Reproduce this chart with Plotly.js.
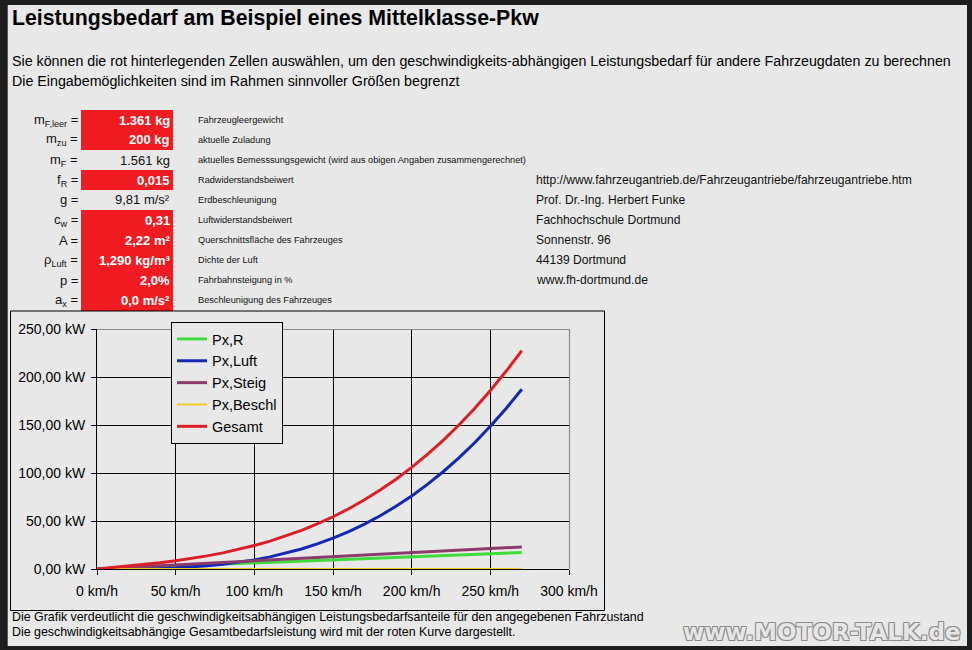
<!DOCTYPE html>
<html><head><meta charset="utf-8">
<script src="https://cdn.plot.ly/plotly-3.0.1.min.js"></script>
<style>html,body{margin:0;padding:0;background:#1e1e1e;} #chart{width:972px;height:650px;}</style>
</head><body><div id="chart"></div>
<script>
// ---- data ----
const speeds = [0,10,20,30,40,50,60,70,80,90,100,110,120,130,140,150,160,170,180,190,200,210,220,230,240,250,260,270];
const pRoll  = [0,0.64,1.28,1.91,2.55,3.19,3.83,4.47,5.10,5.74,6.38,7.02,7.66,8.30,8.93,9.57,10.21,10.85,11.49,12.12,12.76,13.40,14.04,14.68,15.31,15.95,16.59,17.23];
const pLuft  = [0,0.01,0.08,0.26,0.61,1.19,2.06,3.26,4.87,6.94,9.51,12.66,16.44,20.90,26.11,32.11,38.97,46.74,55.49,65.26,76.11,88.11,101.31,115.76,131.52,148.66,167.22,187.27];
const pSteig = [0,0.85,1.70,2.55,3.40,4.25,5.10,5.96,6.81,7.66,8.51,9.36,10.21,11.06,11.91,12.76,13.61,14.46,15.31,16.16,17.01,17.87,18.72,19.57,20.42,21.27,22.12,22.97];
const pBeschl= [0,0,0,0,0,0,0,0,0,0,0,0,0,0,0,0,0,0,0,0,0,0,0,0,0,0,0,0];
const pGesamt= [0,1.50,3.06,4.72,6.56,8.63,10.99,13.69,16.78,20.34,24.40,29.04,34.31,40.26,46.95,54.44,62.79,72.05,82.29,93.54,105.88,119.38,134.07,150.01,167.25,185.88,205.93,227.47];
const seriesNames = ["Px,R","Px,Luft","Px,Steig","Px,Beschl","Gesamt"];
const xTickVals = [0,50,100,150,200,250,300];
const xTickText = ["0 km/h","50 km/h","100 km/h","150 km/h","200 km/h","250 km/h","300 km/h"];
const yTickVals = [0,50,100,150,200,250];
const yTickText = ["0,00 kW","50,00 kW","100,00 kW","150,00 kW","200,00 kW","250,00 kW"];

const titleText = "Leistungsbedarf am Beispiel eines Mittelklasse-Pkw";
const introLines = ["Sie können die rot hinterlegenden Zellen auswählen, um den geschwindigkeits-abhängigen Leistungsbedarf für andere Fahrzeugdaten zu berechnen",
  "Die Eingabemöglichkeiten sind im Rahmen sinnvoller Größen begrenzt"];
const symbolLabels = ["m<sub>F,leer</sub> =","m<sub>zu</sub> =","m<sub>F</sub> =","f<sub>R</sub> =","g =","c<sub>w</sub> =","A =","ρ<sub>Luft</sub> =","p =","a<sub>x</sub> ="];
const cellValues = ["1.361 kg","200 kg","1.561 kg","0,015","9,81 m/s²","0,31","2,22 m²","1,290 kg/m³","2,0%","0,0 m/s²"];
const inputCell = [true,true,false,true,false,true,true,true,true,true];
const descriptions = ["Fahrzeugleergewicht","aktuelle Zuladung","aktuelles Bemesssungsgewicht (wird aus obigen Angaben zusammengerechnet)","Radwiderstandsbeiwert","Erdbeschleunigung","Luftwiderstandsbeiwert","Querschnittsfläche des Fahrzeuges","Dichte der Luft","Fahrbahnsteigung in %","Beschleunigung des Fahrzeuges"];
const contactLines = ["http://www.fahrzeugantrieb.de/Fahrzeugantriebe/fahrzeugantriebe.htm","Prof. Dr.-Ing. Herbert Funke","Fachhochschule Dortmund","Sonnenstr. 96","44139 Dortmund","www.fh-dortmund.de"];
const footerLines = ["Die Grafik verdeutlicht die geschwindigkeitsabhängigen Leistungsbedarfsanteile für den angegebenen Fahrzustand",
  "Die geschwindigkeitsabhängige Gesamtbedarfsleistung wird mit der roten Kurve dargestellt."];
const watermark = "www.MOTOR-TALK.de";

// ---- layout helpers (pixel -> paper) ----
const ML=97, MR=403, MT=329, MB=81, W=972, H=650;
const PW=W-ML-MR, PH=H-MT-MB;
const px = x => (x-ML)/PW;
const py = y => (H-MB-y)/PH;
const FONT = "Liberation Sans, Arial, sans-serif";
const BG = "#e8e8e8";

const colors = ["#3cdc3c","#1428b4","#8c3c6c","#f5c828","#dc1e26"];
const ys = [pRoll,pLuft,pSteig,pBeschl,pGesamt];
const traces = ys.map((y,i)=>({
  type:"scatter", mode:"lines", x:speeds, y:y, name:seriesNames[i],
  line:{color:colors[i], width: i===3?2:3}, cliponaxis:false
}));

const shapes = [];
const annotations = [];
// page light area
shapes.push({type:"rect",xref:"paper",yref:"paper",x0:px(8),x1:px(967),y0:py(5),y1:py(646),fillcolor:BG,line:{width:0},layer:"below"});
shapes.push({type:"line",xref:"paper",yref:"paper",x0:px(7.5),x1:px(7.5),y0:py(5),y1:py(646),line:{color:"#5a5a5a",width:1},layer:"below"});
// red input cells
const rowY0 = 110, rowH = 20;
inputCell.forEach((isIn,i)=>{
  if(isIn){
    shapes.push({type:"rect",xref:"paper",yref:"paper",x0:px(81),x1:px(173),y0:py(rowY0+i*rowH),y1:py(rowY0+(i+1)*rowH+(i===9?1:0)),fillcolor:"#f01c22",line:{width:0},layer:"below"});
  }
});
// chart box
shapes.push({type:"rect",xref:"paper",yref:"paper",x0:px(10.5),x1:px(604.5),y0:py(311),y1:py(610.5),fillcolor:BG,line:{color:"#000",width:1},layer:"below"});
// plot area top/right border (gray)
shapes.push({type:"path",xref:"paper",yref:"paper",path:`M ${px(97)} ${py(329.5)} L ${px(569.5)} ${py(329.5)} L ${px(569.5)} ${py(569)}`,line:{color:"#8a8a8a",width:1.2},layer:"above"});

function txt(x,y,text,opt){
  annotations.push(Object.assign({xref:"paper",yref:"paper",x:px(x),y:py(y),text:text,showarrow:false,
    xanchor:"left",yanchor:"middle",borderpad:0,font:{family:FONT,size:13,color:"#000"}},opt||{}));
}
txt(11,18,titleText,{font:{family:FONT,size:21.3,color:"#000",weight:"bold"}});
txt(11,61,introLines[0],{font:{family:FONT,size:14.25,color:"#000"}});
txt(11,81,introLines[1],{font:{family:FONT,size:14.25,color:"#000"}});
symbolLabels.forEach((s,i)=>{
  const y = rowY0 + i*rowH + 10;
  txt(79,y,s,{xanchor:"right",font:{family:FONT,size:13,color:"#111"}});
  txt(171,y,cellValues[i],{xanchor:"right",font:{family:FONT,size:13,color:inputCell[i]?"#fff":"#111",weight:inputCell[i]?"bold":"normal"}});
  txt(197,y,descriptions[i],{font:{family:FONT,size:9.2,color:"#111"}});
});
contactLines.forEach((s,i)=>{
  txt(535,180+i*20,s,{font:{family:FONT,size:12.1,color:"#111"}});
});
txt(11,617,footerLines[0],{font:{family:FONT,size:12.4,color:"#000"}});
txt(11,632,footerLines[1],{font:{family:FONT,size:12.4,color:"#000"}});
txt(962,632,watermark,{xanchor:"right",font:{family:"DejaVu Sans, sans-serif",size:23,color:"#e6e6e6",weight:"bold",
  shadow:"1px 1px 0 #8c8c8c, -1px -1px 0 #8c8c8c, 1px -1px 0 #8c8c8c, -1px 1px 0 #8c8c8c"}});

const layout = {
  width:W, height:H, margin:{l:ML,r:MR,t:MT,b:MB,pad:0},
  paper_bgcolor:"#1e1e1e", plot_bgcolor:"rgba(0,0,0,0)",
  font:{family:FONT,size:14,color:"#000"},
  showlegend:true,
  legend:{x:px(171),y:py(322),xanchor:"left",yanchor:"top",bgcolor:BG,bordercolor:"#000",borderwidth:1,
    font:{family:FONT,size:14.5,color:"#000"},itemwidth:30,tracegroupgap:0,traceorder:"normal"},
  xaxis:{range:[0,300],tickmode:"array",tickvals:xTickVals,ticktext:xTickText,showgrid:true,gridcolor:"#000",gridwidth:1,
    showline:true,linecolor:"#000",linewidth:1,zeroline:false,ticks:"outside",ticklen:5,tickcolor:"#000",
    ticklabelstandoff:4,tickfont:{family:FONT,size:14,color:"#000"},fixedrange:true},
  yaxis:{range:[0,250],tickmode:"array",tickvals:yTickVals,ticktext:yTickText,showgrid:true,gridcolor:"#000",gridwidth:1,
    showline:true,linecolor:"#000",linewidth:1,zeroline:false,ticks:"outside",ticklen:5,tickcolor:"#000",
    ticklabelstandoff:3,tickfont:{family:FONT,size:14,color:"#000"},fixedrange:true},
  shapes:shapes, annotations:annotations
};
Plotly.newPlot("chart",traces,layout,{displayModeBar:false,staticPlot:true});
</script></body></html>
